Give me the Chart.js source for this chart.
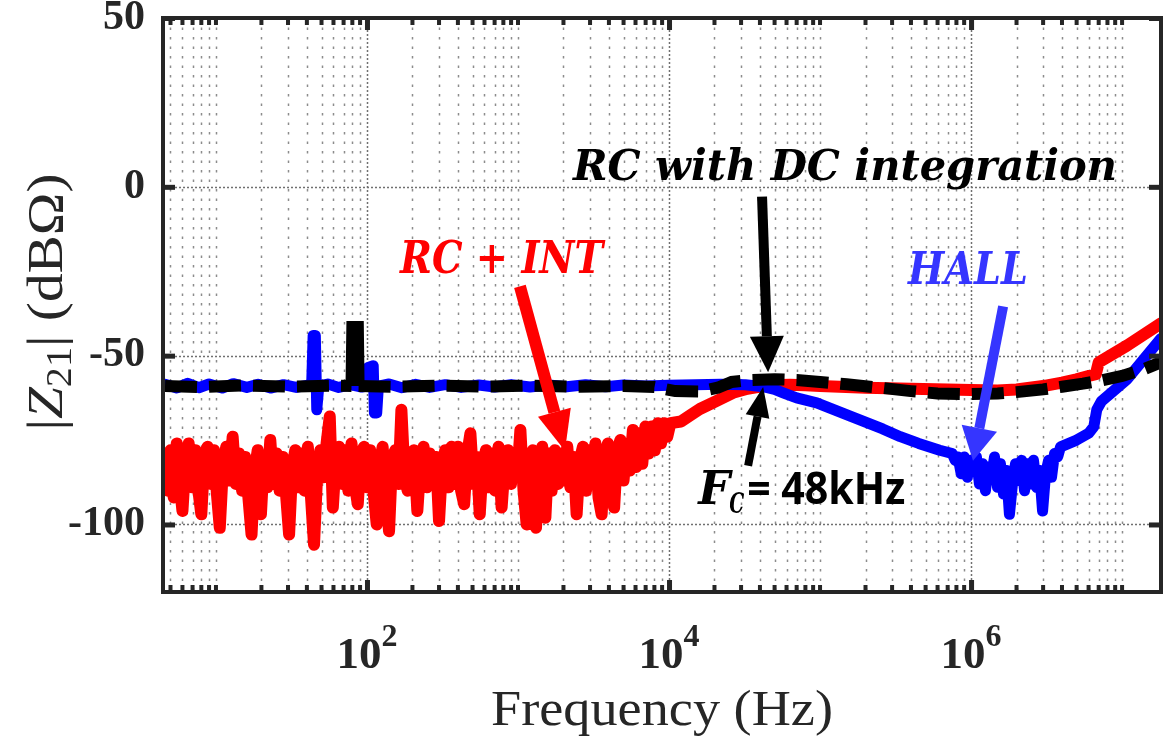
<!DOCTYPE html>
<html>
<head>
<meta charset="utf-8">
<title>|Z21| vs frequency</title>
<script src="https://cdn.jsdelivr.net/npm/chart.js@4.4.1/dist/chart.umd.min.js"></script>
<style>
  html, body { margin: 0; padding: 0; background: #fff; }
  #plot { display: block; }
</style>
</head>
<body>
<canvas id="plot" width="1174" height="736"></canvas>
<script>
// axis ticks
const xTickValues = [1e2, 1e4, 1e6];
const xTickExps = ['2', '4', '6'];
const yTickValues = [-100, -50, 0, 50];

// RC + INT (red)
const redFreq = [4.6, 4.8, 5.0, 5.25, 5.5, 5.75, 6.0, 6.3, 6.6, 6.95,
  7.3, 7.65, 8.0, 8.4, 8.8, 9.25, 9.7, 10.15, 10.6, 11.15,
  11.7, 12.3, 12.9, 13.55, 14.2, 14.9, 15.6, 16.4, 17.2, 18.05,
  18.9, 19.85, 20.8, 21.85, 22.9, 24.0, 25.2, 26.4, 27.7, 29.1,
  30.5, 32.0, 33.5, 35.2, 36.9, 38.7, 40.6, 42.6, 44.6, 46.8,
  49.1, 51.5, 54.0, 56.7, 59.4, 62.3, 65.3, 68.5, 71.8, 75.3,
  79.0, 82.9, 86.9, 91.1, 95.6, 100.2, 105, 110.4, 116, 121.5,
  127, 133.4, 140, 146.9, 154, 161.5, 169, 177.5, 186, 195.5,
  205, 215.5, 226, 237, 248, 260, 273, 286.5, 300, 315,
  330, 346.5, 363, 381, 400, 420, 440, 461.5, 484, 507.5,
  532, 558, 585, 614, 644, 675, 708, 743, 779, 817,
  857, 899, 943, 989, 1037, 1088, 1141, 1197, 1255, 1316,
  1380, 1447, 1518, 1592, 1670, 1752, 1837, 1927, 2021, 2120,
  2223, 2331, 2445, 2565, 2690, 2821, 2959, 3104, 3255, 3414,
  3580, 3755, 3938, 4130, 4332, 4543, 4765, 4998, 5242, 5498,
  5766, 6048, 6343, 6652, 6977, 7318, 7675, 8050, 8442, 8855,
  9287, 9740, 10215,
  12000, 14000, 16000, 20700, 26500, 33000, 42000, 48000, 63000, 80000,
  1e5, 2e5, 4e5, 7e5, 1e6, 1.5e6, 2e6, 3e6, 4e6, 5e6, 6e6, 6.7e6, 7e6, 1.08e7, 1.8e7];
const redMag = [-80, -90, -78, -92, -76, -88, -96, -80, -76, -89,
  -78, -90, -97, -79, -77, -88, -78, -91, -101, -82,
  -77, -87, -74, -88, -79, -90, -80, -92, -103, -84,
  -78, -97, -80, -89, -75, -88, -79, -90, -80, -91,
  -103, -83, -78, -89, -79, -90, -77, -92, -106, -85,
  -78, -86, -76, -68, -95, -80, -77, -88, -78, -90,
  -76, -88, -94, -79, -77, -89, -78, -90, -100, -82,
  -77, -91, -102, -80, -78, -88, -66, -86, -90, -79,
  -78, -96, -82, -77, -89, -79, -87, -80, -99, -82,
  -78, -89, -77, -88, -77, -90, -94, -79, -73, -88,
  -80, -97, -82, -78, -89, -79, -90, -77, -95, -82,
  -78, -88, -79, -86, -72, -90, -100, -80, -78, -101,
  -84, -77, -98, -79, -90, -78, -88, -79, -87, -77,
  -89, -80, -97, -81, -77, -90, -78, -88, -76, -92,
  -97, -79, -76, -90, -95, -78, -75, -87, -76, -84,
  -72, -83, -73, -82, -71, -79, -71, -78, -70, -76,
  -70, -74, -70,
  -69.5, -67.5, -65.8, -63.4, -61, -59.8, -59, -58.8, -58.6, -58.8,
  -59, -59.5, -59.8, -60, -60.2, -60.3, -60, -59, -58, -57, -56, -55.5, -52, -47, -40.5];

// HALL (blue)
const blueFreq = [4.6, 5.5, 6.5, 7.7, 9, 11, 13, 16, 19, 23,
  28, 34, 40, 43, 44, 45.5, 46.5, 48, 55, 65,
  78, 92, 100, 102, 110, 112, 116, 119, 140, 170,
  210, 260, 330, 420, 550, 700, 900, 1200, 1600, 2100,
  2800, 3800, 5000, 7000, 10000, 15000, 22000, 32000, 42000, 50000,
  57000, 70000, 95000, 160000, 260000, 340000, 450000, 620000,
  750000, 785000, 820000, 860000, 900000, 945000, 990000, 1035000, 1085000, 1135000,
  1190000, 1245000, 1300000, 1365000, 1430000, 1495000, 1565000, 1640000, 1715000, 1795000,
  1880000, 1970000, 2060000, 2160000, 2260000, 2365000, 2475000, 2590000, 2715000, 2840000,
  2975000, 3115000, 3260000, 3410000, 3570000, 3740000, 3915000,
  5000000, 6000000, 6500000, 6800000, 7300000, 10800000, 18000000];
const blueMag = [-58.5, -59.6, -58.2, -59.5, -58.4, -59.6, -58.3, -59.4, -58.5, -59.6,
  -58.6, -59.4, -58.8, -59, -44, -44, -66, -59, -58.4, -59.4,
  -58.6, -59.3, -59, -53.5, -53, -67, -67, -59, -58.4, -59.5,
  -58.5, -59.4, -58.6, -59.4, -58.7, -59.3, -58.6, -59.3, -58.7, -59.2,
  -58.6, -59.2, -58.7, -59, -58.8, -58.6, -58.5, -58.6, -59.2, -60,
  -61, -62.5, -64, -68, -71.7, -74, -76, -78,
  -79, -81, -80, -85, -80, -86, -81, -84, -80, -88,
  -82, -90, -83, -86, -80, -89, -82, -91, -84, -97,
  -88, -82, -87, -81, -90, -82, -88, -81, -89, -84,
  -96, -85, -81, -86, -79, -80, -77,
  -75, -73, -71, -66, -63.5, -57, -45];

// RC with DC integration (black dashed)
const blackFreq = [4.6, 8, 15, 30, 60, 79, 80, 87, 88, 150,
  300, 600, 1200, 2500, 5000, 8000, 11000, 16000, 21000, 26000,
  35000, 50000, 70000, 100000, 150000, 250000, 400000, 600000, 1000000, 1500000,
  2000000, 3000000, 4000000, 5500000, 7000000, 10000000, 14000000, 18000000];
const blackMag = [-59, -59.3, -58.8, -59.2, -58.9, -59, -41.5, -41.5, -59, -59.2,
  -58.9, -59.2, -58.9, -59.2, -59, -59.3, -60.5, -60.6, -59.5, -57.8,
  -57.2, -57, -57.2, -57.8, -58.5, -59.5, -60.5, -61.2, -61.4, -61.2,
  -60.8, -60, -59.2, -58.3, -57.5, -56, -54, -52];

const ink = '#262626';
const hallBlue = '#3535ff';

const pairs = (xs, ys) => xs.map((x, i) => ({ x, y: ys[i] }));

function minorGrid(min, max) {
    const out = [];
    for (let e = 0; e <= 7; e++) {
        for (let m = 1; m <= 9; m++) {
            const v = m * Math.pow(10, e);
            if (v >= min && v <= max && !xTickValues.includes(v)) out.push(v);
        }
    }
    return out;
}

function fitText(ctx, text, x, y, width, font, color) {
    ctx.save();
    ctx.font = font;
    ctx.fillStyle = color;
    ctx.textAlign = 'left';
    ctx.textBaseline = 'alphabetic';
    const w = ctx.measureText(text).width;
    ctx.translate(x, y);
    ctx.scale(width / w, 1);
    ctx.fillText(text, 0, 0);
    ctx.restore();
}

function arrow(ctx, x0, y0, x1, y1, w, len, half, color) {
    const a = Math.atan2(y1 - y0, x1 - x0);
    const bx = x1 - len * Math.cos(a), by = y1 - len * Math.sin(a);
    ctx.save();
    ctx.strokeStyle = color;
    ctx.fillStyle = color;
    ctx.lineWidth = w;
    ctx.lineCap = 'butt';
    ctx.setLineDash([]);
    ctx.beginPath();
    ctx.moveTo(x0, y0);
    ctx.lineTo(bx, by);
    ctx.stroke();
    ctx.beginPath();
    ctx.moveTo(x1, y1);
    ctx.lineTo(bx - half * Math.sin(a), by + half * Math.cos(a));
    ctx.lineTo(bx + half * Math.sin(a), by - half * Math.cos(a));
    ctx.closePath();
    ctx.fill();
    ctx.restore();
}

// annotations, placed in data units
const labels = [
    { text: 'RC with DC integration', color: '#000', f0: 2311, f1: 9.27e6, v: 2.1, size: 42 },
    { text: 'RC + INT', color: '#ff0000', f0: 165.5, f1: 3656, v: -25.4, size: 44 },
    { text: 'HALL', color: hallBlue, f0: 3.83e5, f1: 2.38e6, v: -28.9, size: 44 }
];
const arrows = [
    { from: [4.13e4, -2.9], to: [4.53e4, -54.9], w: 10, len: 36, half: 17, color: '#000' },
    { from: [3.34e4, -82.6], to: [4.2e4, -59.3], w: 8, len: 30, half: 12, color: '#000' },
    { from: [1030, -29.5], to: [2046, -78.2], w: 12, len: 40, half: 17, color: '#ff0000' },
    { from: [1.63e6, -35.4], to: [1.03e6, -81.1], w: 10, len: 33, half: 18, color: hallBlue }
];
const fcAnchor = [1.56e4, -93.8];

const decor = {
    id: 'decor',
    beforeDatasetsDraw(chart) {
        const { ctx, chartArea: a, scales: { x, y } } = chart;
        ctx.save();
        ctx.lineWidth = 1.5;
        ctx.strokeStyle = '#8c8c8c';
        ctx.setLineDash([2.5, 7]);
        for (const v of minorGrid(x.min, x.max)) {
            const p = Math.round(x.getPixelForValue(v)) + 0.5;
            ctx.beginPath(); ctx.moveTo(p, a.top); ctx.lineTo(p, a.bottom); ctx.stroke();
        }
        ctx.strokeStyle = '#707070';
        ctx.setLineDash([2, 2]);
        for (const v of xTickValues) {
            const p = Math.round(x.getPixelForValue(v)) + 0.5;
            ctx.beginPath(); ctx.moveTo(p, a.top); ctx.lineTo(p, a.bottom); ctx.stroke();
        }
        for (const v of yTickValues) {
            const p = Math.round(y.getPixelForValue(v)) + 0.5;
            ctx.beginPath(); ctx.moveTo(a.left, p); ctx.lineTo(a.right, p); ctx.stroke();
        }
        ctx.restore();
    },
    afterDatasetsDraw(chart) {
        const { ctx, chartArea: a, scales: { x, y } } = chart;
        const X = f => x.getPixelForValue(f);
        const Y = v => y.getPixelForValue(v);

        // box and inward ticks
        ctx.save();
        ctx.setLineDash([]);
        ctx.strokeStyle = ink;
        ctx.lineWidth = 4;
        ctx.strokeRect(a.left, a.top, a.right - a.left, a.bottom - a.top);
        ctx.fillStyle = ink;
        for (const v of minorGrid(x.min, x.max)) {
            const p = X(v);
            ctx.fillRect(p - 2, a.bottom - 7, 4, 7);
            ctx.fillRect(p - 2, a.top, 4, 7);
        }
        for (const v of xTickValues) {
            const p = X(v);
            ctx.fillRect(p - 2, a.bottom - 12, 5, 12);
            ctx.fillRect(p - 2, a.top, 5, 12);
        }
        for (const v of yTickValues) {
            const p = Y(v);
            ctx.fillRect(a.left, p - 2, 12, 5);
            ctx.fillRect(a.right - 12, p - 2, 12, 5);
        }
        ctx.restore();

        // arrows and callouts
        for (const ar of arrows) {
            arrow(ctx, X(ar.from[0]), Y(ar.from[1]), X(ar.to[0]), Y(ar.to[1]), ar.w, ar.len, ar.half, ar.color);
        }
        for (const l of labels) {
            fitText(ctx, l.text, X(l.f0), Y(l.v), X(l.f1) - X(l.f0),
                `italic bold ${l.size}px "DejaVu Serif"`, l.color);
        }
        const fx = X(fcAnchor[0]), fy = Y(fcAnchor[1]);
        fitText(ctx, 'F', fx, fy, 32, 'italic bold 46px "DejaVu Serif"', '#000');
        fitText(ctx, 'C', fx + 31, fy + 9, 15, 'italic bold 28px "DejaVu Serif"', '#000');
        fitText(ctx, '= 48kHz', fx + 49, fy, 158, 'bold 44px "Open Sans"', '#000');
    },
    afterDraw(chart) {
        const { ctx, chartArea: a, scales: { x } } = chart;

        // x tick labels: 10 with raised exponent, centred on the tick
        ctx.save();
        ctx.fillStyle = ink;
        ctx.textBaseline = 'alphabetic';
        ctx.textAlign = 'left';
        xTickValues.forEach((v, i) => {
            ctx.font = 'bold 45px "Liberation Serif"';
            const wb = ctx.measureText('10').width;
            ctx.font = 'bold 32px "Liberation Serif"';
            const we = ctx.measureText(xTickExps[i]).width;
            const left = x.getPixelForValue(v) - (wb + we) / 2;
            ctx.font = 'bold 45px "Liberation Serif"';
            ctx.fillText('10', left, 668);
            ctx.font = 'bold 32px "Liberation Serif"';
            ctx.fillText(xTickExps[i], left + wb, 646);
        });
        ctx.restore();

        // x axis title
        fitText(ctx, 'Frequency (Hz)', (a.left + a.right) / 2 - 171, 725, 342,
            '50px "Liberation Serif"', ink);

        // y axis title, rotated, with italic Z and subscript 21
        const parts = [
            { t: '|', f: '50px "Liberation Serif"', dy: 0 },
            { t: 'Z', f: 'italic 50px "Liberation Serif"', dy: 0 },
            { t: '21', f: '35px "Liberation Serif"', dy: 9 },
            { t: '|', f: '50px "Liberation Serif"', dy: 0 },
            { t: ' (dB\u03A9)', f: '50px "Liberation Serif"', dy: 0 }
        ];
        ctx.save();
        let total = 0;
        for (const p of parts) { ctx.font = p.f; p.w = ctx.measureText(p.t).width; total += p.w; }
        const target = 257;
        ctx.translate(62, (a.top + a.bottom) / 2 - 3);
        ctx.rotate(-Math.PI / 2);
        ctx.scale(target / total, 1);
        ctx.fillStyle = ink;
        ctx.textBaseline = 'alphabetic';
        let cx = -total / 2;
        for (const p of parts) {
            ctx.font = p.f;
            ctx.fillText(p.t, cx, p.dy);
            cx += p.w;
        }
        ctx.restore();
    }
};

const tickFont = { family: '"Liberation Serif", serif', weight: 'bold', size: 42 };

new Chart(document.getElementById('plot'), {
    type: 'line',
    data: {
        datasets: [
            {
                label: 'RC with DC integration',
                data: pairs(blackFreq, blackMag),
                borderColor: '#000000',
                borderWidth: 12,
                borderDash: [32, 12],
                borderCapStyle: 'butt',
                borderJoinStyle: 'miter',
                // the narrow spike near 85 Hz is drawn solid
                segment: { borderDash: c => (c.p0DataIndex >= 5 && c.p0DataIndex <= 7) ? [] : undefined }
            },
            {
                label: 'HALL',
                data: pairs(blueFreq, blueMag),
                borderColor: '#0000ff',
                borderWidth: 11
            },
            {
                label: 'RC + INT',
                data: pairs(redFreq, redMag),
                borderColor: '#ff0000',
                borderWidth: 12
            }
        ]
    },
    options: {
        responsive: false,
        animation: false,
        events: [],
        clip: 0,
        layout: { padding: { left: 0, right: 13, top: 18, bottom: 0 } },
        elements: {
            point: { radius: 0 },
            line: { tension: 0, borderJoinStyle: 'round', borderCapStyle: 'round', fill: false }
        },
        plugins: { legend: { display: false }, tooltip: { enabled: false } },
        scales: {
            x: {
                type: 'logarithmic',
                min: 4.46,
                max: 1.81e7,
                grid: { display: false, drawTicks: false },
                border: { display: false },
                ticks: { display: false },
                afterBuildTicks: s => { s.ticks = xTickValues.map(v => ({ value: v })); },
                afterFit: s => { s.height = 144; s.paddingLeft = 0; s.paddingRight = 0; }
            },
            y: {
                min: -120,
                max: 50,
                grid: { display: false, drawTicks: false },
                border: { display: false },
                ticks: { padding: 18, color: ink, font: tickFont },
                afterBuildTicks: s => { s.ticks = yTickValues.map(v => ({ value: v })); },
                afterFit: s => { s.width = 163; s.paddingTop = 0; s.paddingBottom = 0; }
            }
        }
    },
    plugins: [decor]
});
</script>
</body>
</html>
